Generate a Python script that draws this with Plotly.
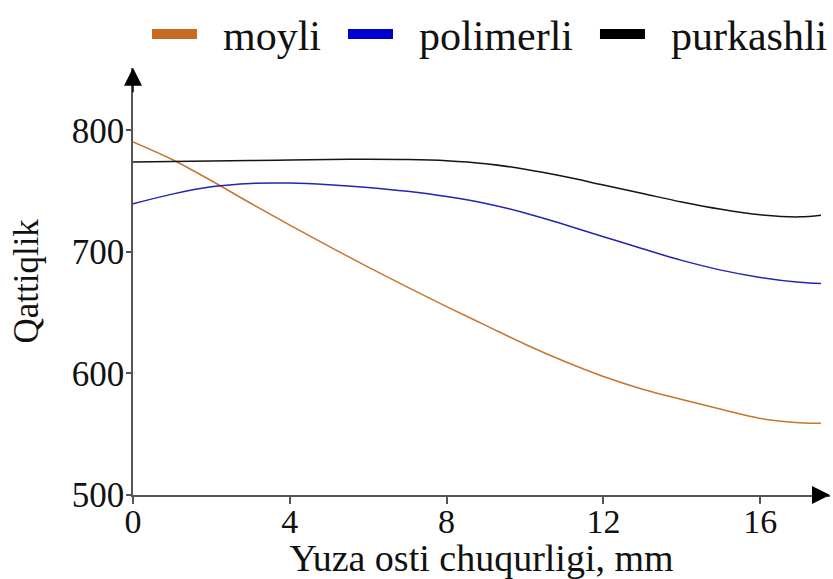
import plotly.graph_objects as go

# depth, mm
depth = [0, 1, 2, 3, 4, 5, 6, 7, 8, 9, 10, 11, 12, 13, 14, 15, 16, 17, 17.55]
moyli = [790.5, 776, 758.5, 740, 722, 704.5, 687.5, 671, 655, 639.5, 624, 610, 597.5, 587, 578.5, 570.5, 563, 559.5, 559]
polimerli = [739.5, 747.5, 753.5, 756.3, 756.6, 755.3, 753, 749.8, 745.5, 739.8, 732, 722.5, 712.5, 702.5, 693, 685, 679, 675, 674]
purkashli = [774, 774.3, 774.7, 775.2, 775.6, 776, 776.2, 776, 775, 772.5, 768, 762, 755, 748, 741, 735, 730.5, 728.8, 730.2]

series_names = ["moyli", "polimerli", "purkashli"]
line_colors = ["#c8762e", "#2424b0", "#151515"]
legend_colors = ["#c86a22", "#0000cc", "#000000"]
legend_x = [0.0201, 0.3013, 0.6628]
x_ticks = [0, 4, 8, 12, 16]
y_ticks = [500, 600, 700, 800]

FONT = "Liberation Serif"
NB = "\u00a0"

fig = go.Figure()
for name, vals, lc in zip(series_names, [moyli, polimerli, purkashli], line_colors):
    fig.add_trace(go.Scatter(x=depth, y=vals, mode="lines", name=name,
                             line=dict(color=lc, width=1.5, shape="spline", smoothing=1.0),
                             showlegend=False))

legend_ids = ["legend", "legend2", "legend3"]
for name, lc, lid in zip(series_names, legend_colors, legend_ids):
    fig.add_trace(go.Scatter(x=[None], y=[None], mode="lines", name=NB + NB + name,
                             line=dict(color=lc, width=10), showlegend=True, legend=lid))

legend_common = dict(orientation="h", xanchor="left", y=0.952, yanchor="middle",
                     font=dict(family=FONT, size=42, color="#111"),
                     itemwidth=45, bgcolor="rgba(0,0,0,0)")

fig.update_layout(
    width=833, height=579,
    margin=dict(l=133, r=2, t=0, b=84),
    plot_bgcolor="white", paper_bgcolor="white",
    font=dict(family=FONT, color="#111", size=32),
    showlegend=True,
    legend=dict(x=legend_x[0], **legend_common),
    legend2=dict(x=legend_x[1], **legend_common),
    legend3=dict(x=legend_x[2], **legend_common),
    xaxis=dict(range=[0, 17.78], tickvals=x_ticks, showgrid=False, zeroline=False,
               showline=True, linecolor="#555", linewidth=1.5, automargin=False,
               ticks="outside", ticklen=7, tickcolor="#555", tickwidth=1.5,
               ticklabelstandoff=-12,
               tickfont=dict(family=FONT, size=34),
               title=dict(text="Yuza osti chuqurligi, mm", font=dict(family=FONT, size=38), standoff=4)),
    yaxis=dict(range=[500, 851.5], domain=[0, (495 - 58) / 495], tickvals=y_ticks, showgrid=False,
               zeroline=False, showline=True, linecolor="#555", linewidth=1.5, automargin=False,
               ticks="outside", ticklen=5, tickcolor="#555", tickwidth=1.5,
               ticklabelstandoff=-5,
               tickfont=dict(family=FONT, size=35),
               title=dict(text="Qattiqlik", font=dict(family=FONT, size=35), standoff=22)),
)

# axis arrows
fig.add_annotation(x=17.78, y=500, ax=17.3, ay=500, xref="x", yref="y", axref="x", ayref="y",
                   text="", showarrow=True, arrowhead=2, arrowsize=2.4, arrowwidth=1.5, arrowcolor="#000")
fig.add_annotation(x=0, y=851.5, ax=0, ay=830, xref="x", yref="y", axref="x", ayref="y",
                   text="", showarrow=True, arrowhead=2, arrowsize=2.4, arrowwidth=1.5, arrowcolor="#000")

fig.write_html("out.html", config={"displayModeBar": False},
               post_script="document.body.style.margin='0px';")
